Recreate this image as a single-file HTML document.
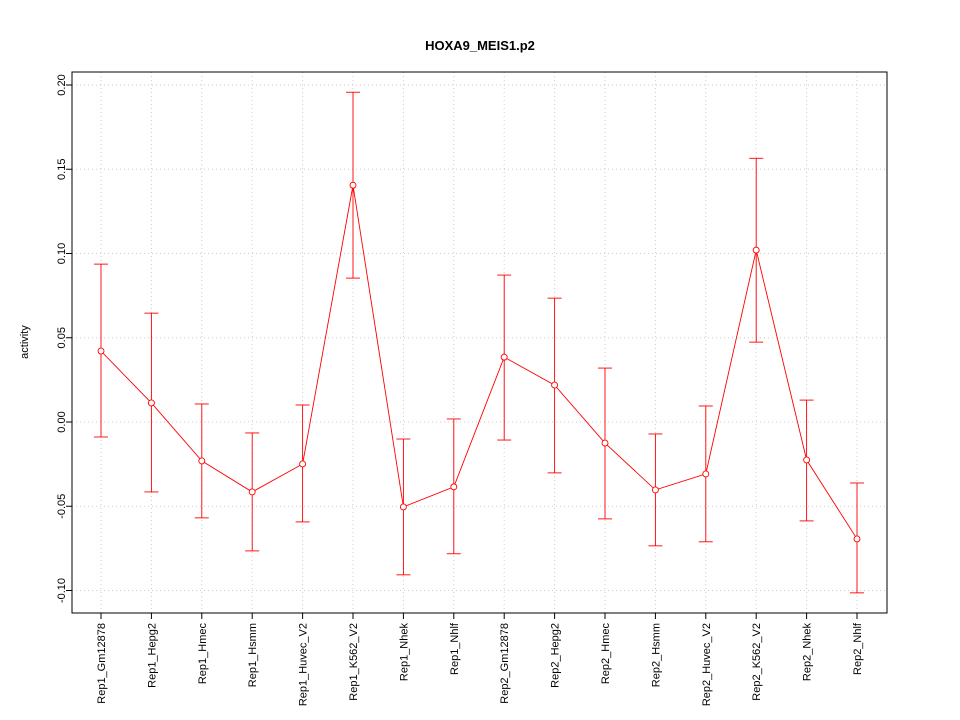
<!DOCTYPE html>
<html><head><meta charset="utf-8"><style>body{margin:0;background:#fff}svg{display:block;font-family:"Liberation Sans",sans-serif}</style></head>
<body>
<svg id="c" width="960" height="720"></svg>
<script>
const categories=["Rep1_Gm12878","Rep1_Hepg2","Rep1_Hmec","Rep1_Hsmm","Rep1_Huvec_V2","Rep1_K562_V2","Rep1_Nhek","Rep1_Nhlf","Rep2_Gm12878","Rep2_Hepg2","Rep2_Hmec","Rep2_Hsmm","Rep2_Huvec_V2","Rep2_K562_V2","Rep2_Nhek","Rep2_Nhlf"];
const values=[0.0421,0.0113,-0.0231,-0.0415,-0.0249,0.1405,-0.0504,-0.0385,0.0385,0.0219,-0.0125,-0.0403,-0.0308,0.102,-0.0225,-0.0694];
const upper=[0.0937,0.0646,0.0107,-0.0065,0.0101,0.1957,-0.0101,0.0018,0.0872,0.0735,0.032,-0.0071,0.0095,0.1565,0.013,-0.0362];
const lower=[-0.0089,-0.0415,-0.0569,-0.0765,-0.0593,0.0854,-0.0907,-0.0782,-0.0107,-0.0302,-0.0575,-0.0735,-0.0711,0.0474,-0.0587,-0.1014];
const yTicks=[-0.10,-0.05,0.00,0.05,0.10,0.15,0.20];
const yTickLabels=["-0.10","-0.05","0.00","0.05","0.10","0.15","0.20"];
const svg=document.getElementById('c');const NS="http://www.w3.org/2000/svg";
function y(v){return 422-v*(422-85)/0.2;}
function x(i){return 101+i*(857-101)/15;}
function mk(t,a,p){const e=document.createElementNS(NS,t);for(const k in a)e.setAttribute(k,a[k]);(p||svg).appendChild(e);return e;}
yTicks.forEach((v,i)=>{const l=mk('line',{x1:72,x2:887,y1:y(v),y2:y(v),stroke:'#ccc','stroke-dasharray':'1,3'});

});
categories.forEach((c,i)=>{const l=mk('line',{x1:x(i),x2:x(i),y1:72,y2:613,stroke:'#ccc','stroke-dasharray':'1,3'});

});
const b=mk('rect',{x:72,y:72,width:815,height:541,fill:'none',stroke:'#000'});


yTicks.forEach((v,i)=>{mk('line',{x1:66,x2:72,y1:y(v),y2:y(v),stroke:'#000'});
const t=mk('text',{x:65,y:y(v),'font-size':11,'text-anchor':'middle',transform:`rotate(-90 65 ${y(v)})`});t.textContent=yTickLabels[i];

});
categories.forEach((c,i)=>{mk('line',{x1:x(i),x2:x(i),y1:613,y2:619,stroke:'#000'});
const t=mk('text',{x:x(i)+4,y:623,'font-size':11,'text-anchor':'end',transform:`rotate(-90 ${x(i)+4} 623)`});t.textContent=c;

});
categories.forEach((c,i)=>{const g=mk('g',{stroke:'#f00','stroke-width':0.9});


mk('line',{x1:x(i),x2:x(i),y1:y(upper[i]),y2:y(lower[i])},g);
mk('line',{x1:x(i)-7,x2:x(i)+7,y1:y(upper[i]),y2:y(upper[i])},g);
mk('line',{x1:x(i)-7,x2:x(i)+7,y1:y(lower[i]),y2:y(lower[i])},g);});
const pl=mk('polyline',{points:values.map((v,i)=>x(i)+','+y(v)).join(' '),fill:'none',stroke:'#f00','stroke-width':0.9});


values.forEach((v,i)=>{const p=mk('circle',{cx:x(i),cy:y(v),r:3,fill:'#fff',stroke:'#f00','stroke-width':0.9});

});
const ti=mk('text',{x:480,y:50,'font-size':13,'font-weight':'bold','text-anchor':'middle'});ti.textContent='HOXA9_MEIS1.p2';


const yl=mk('text',{x:28,y:342,'font-size':11,'text-anchor':'middle',transform:'rotate(-90 28 342)'});yl.textContent='activity';


</script>
</body></html>
